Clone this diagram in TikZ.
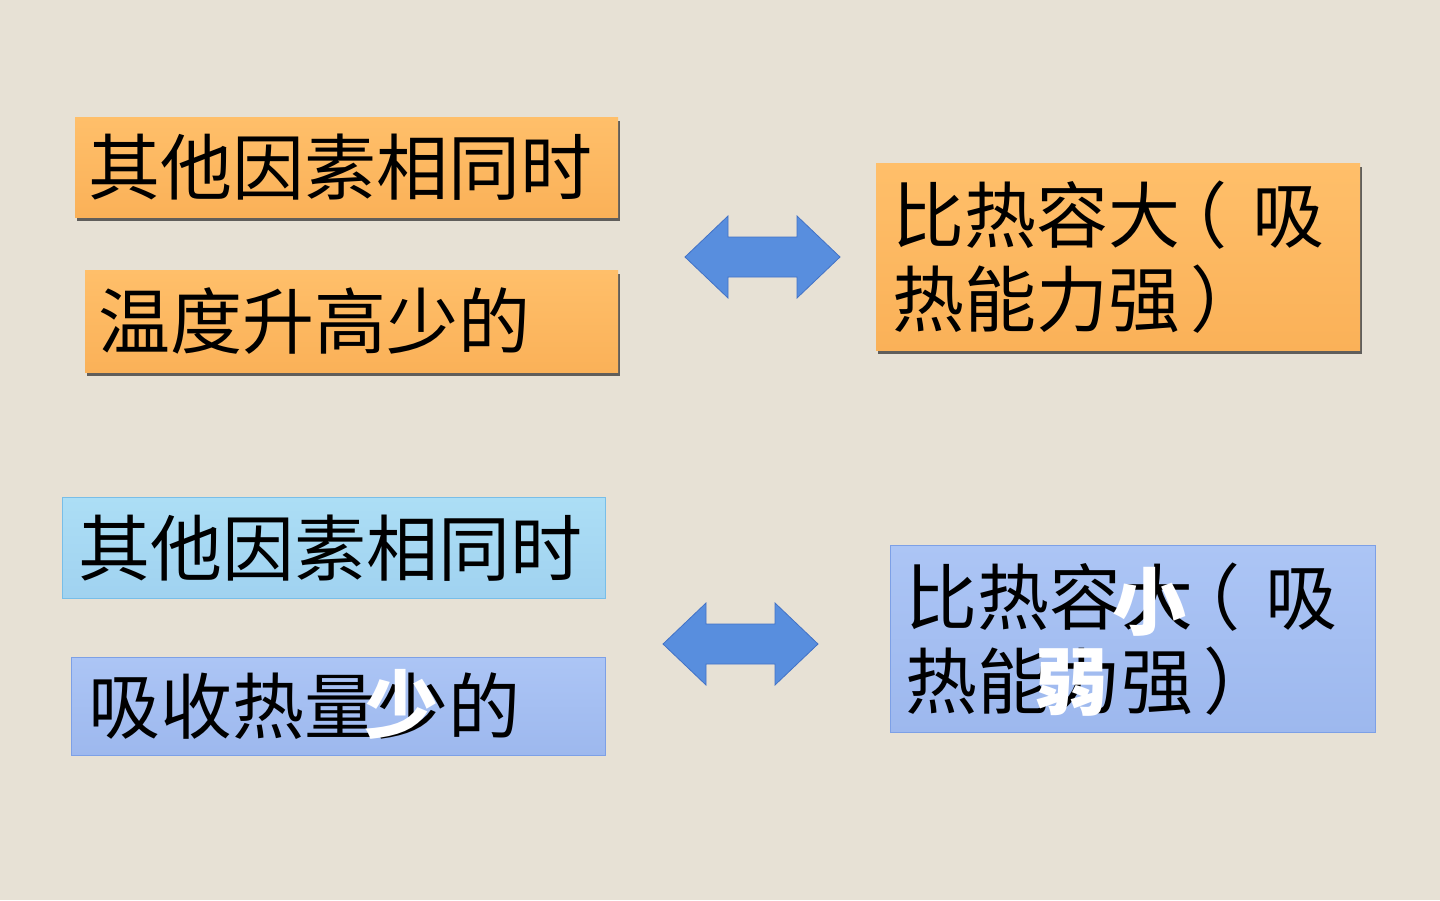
\documentclass[tikz,border=0pt]{standalone}
\usepackage{fontspec}
\newfontfamily\cjk{Noto Sans CJK SC}
\usetikzlibrary{shadows}

\definecolor{paper}{RGB}{231,225,213}
\definecolor{orangeT}{RGB}{255,191,106}
\definecolor{orangeB}{RGB}{250,177,88}
\definecolor{skyT}{RGB}{172,222,245}
\definecolor{skyB}{RGB}{160,210,240}
\definecolor{skyline}{RGB}{120,190,232}
\definecolor{lilacT}{RGB}{172,197,245}
\definecolor{lilacB}{RGB}{157,184,238}
\definecolor{lilacline}{RGB}{125,160,230}
\definecolor{arrowblue}{RGB}{88,142,222}
\definecolor{arrowline}{RGB}{66,114,198}

% full-width brackets, moved towards the middle of their cell
\newcommand{\lpar}{\makebox[1em][l]{\hspace{-0.35em}（}}
\newcommand{\rpar}{\makebox[1em][l]{\hspace{0.14em}）}}

\tikzset{
  box/.style={rectangle, anchor=north west, align=left, inner ysep=0pt,
    font=\cjk\fontsize{72}{84}\selectfont, text=black},
  obox/.style={box, top color=orangeT, bottom color=orangeB,
    drop shadow={shadow xshift=1.5pt, shadow yshift=-3.5pt, fill=black!80, opacity=0.75}},
  sbox/.style={box, top color=skyT, bottom color=skyB, draw=skyline, line width=0.8pt},
  lbox/.style={box, top color=lilacT, bottom color=lilacB, draw=lilacline, line width=0.8pt},
  fix/.style={font=\cjk\bfseries\fontsize{74}{84}\selectfont, text=white, inner sep=0pt}
}

\begin{document}
\begin{tikzpicture}[x=1pt,y=-1pt]
  \fill[paper] (0,0) rectangle (1440,900);
  \useasboundingbox (0,0) rectangle (1440,900);

  % warm boxes
  \node[obox, inner xsep=13pt, text width=517pt, minimum height=100pt] (same1) at (75,117) {其他因素相同时};
  \node[obox, inner xsep=13pt, text width=507pt, minimum height=102pt] (rise) at (85,270) {温度升高少的};
  \node[obox, inner xsep=16pt, text width=452pt, minimum height=187pt] (big) at (876,163) {比热容大\lpar 吸\\热能力强\rpar};

  % cool boxes
  \node[sbox, inner xsep=16pt, text width=511pt, minimum height=101pt] (same2) at (62,497) {其他因素相同时};
  \node[lbox, inner xsep=17pt, text width=500pt, minimum height=98pt] (absorb) at (71,657) {吸收热量少的};
  \node[lbox, inner xsep=15pt, text width=455pt, minimum height=187pt] (small) at (890,545) {比热容大\lpar 吸\\热能力强\rpar};

  % white corrections written over the text
  \node[fix] (less) at (401,704) {少};
  \node[fix] (tiny) at (1149,602) {小};
  \node[fix] (weak) at (1071,683) {弱};

  % double block arrows
  \foreach \cx/\cy in {762.5/257, 740.5/644} {
    \filldraw[fill=arrowblue, draw=arrowline, line width=0.8pt]
      (\cx-77.5,\cy) -- (\cx-34.5,\cy-41) -- (\cx-34.5,\cy-20) -- (\cx+34.5,\cy-20)
      -- (\cx+34.5,\cy-41) -- (\cx+77.5,\cy) -- (\cx+34.5,\cy+41) -- (\cx+34.5,\cy+20)
      -- (\cx-34.5,\cy+20) -- (\cx-34.5,\cy+41) -- cycle;
  }
\end{tikzpicture}
\end{document}
